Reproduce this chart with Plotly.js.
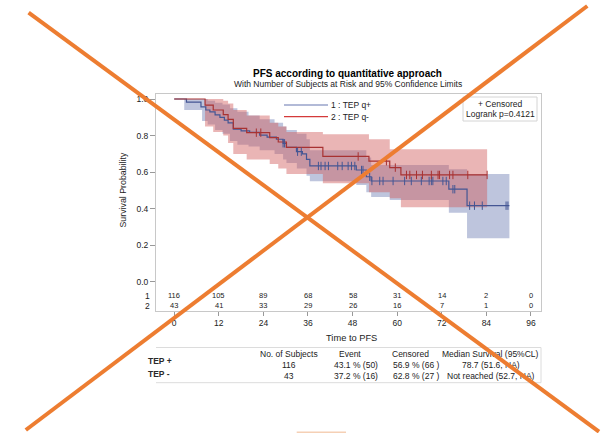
<!DOCTYPE html>
<html>
<head>
<meta charset="utf-8">
<script src="https://cdn.plot.ly/plotly-3.0.1.min.js"></script>
<style>
  html, body { margin: 0; padding: 0; background: #fff; overflow: hidden; }
  #chart, #overlay { position: absolute; left: 0; top: 0; width: 616px; height: 433px; }
  #overlay { pointer-events: none; }
</style>
</head>
<body>
<div id="chart"></div>
<div id="overlay"></div>
<script>
// ---------------- DATA ----------------
const riskTimes = [0, 12, 24, 36, 48, 60, 72, 84, 96];
const riskQpos = [116, 105, 89, 68, 58, 31, 14, 2, 0];
const riskQneg = [43, 41, 33, 29, 26, 16, 7, 1, 0];

// Kaplan-Meier step curves (time, survival)
const qposT = [0, 3.3, 7.2, 8.5, 9.6, 11, 12.3, 13.5, 14.5, 15.9, 18, 20.3, 23, 25, 27.5, 29.3, 30.2, 32.9, 34.5, 35.6, 36.5, 49, 51.7, 53, 73.9, 78.8, 90.2];
const qposS = [1, 0.983, 0.957, 0.94, 0.93, 0.913, 0.9, 0.885, 0.87, 0.835, 0.826, 0.818, 0.803, 0.792, 0.78, 0.758, 0.736, 0.712, 0.70, 0.67, 0.634, 0.612, 0.575, 0.552, 0.507, 0.417, 0.417];

const qnegT = [0, 8.3, 10.5, 13.2, 14.5, 15.9, 19.5, 25.7, 28, 30.2, 40, 52.4, 58, 61, 84.2];
const qnegS = [1, 0.967, 0.94, 0.915, 0.889, 0.84, 0.816, 0.789, 0.765, 0.736, 0.686, 0.66, 0.625, 0.585, 0.585];

// 95% confidence bands (step)
const qposBandT = [0, 2.7, 7.5, 9, 11, 13, 15, 17, 20, 23, 27, 29.3, 30.2, 33, 35.6, 36.5, 49, 51.7, 53, 58, 73.9, 78.8, 90.2];
const qposLower = [1, 0.94, 0.88, 0.86, 0.83, 0.81, 0.77, 0.75, 0.74, 0.72, 0.70, 0.67, 0.65, 0.62, 0.58, 0.55, 0.53, 0.49, 0.465, 0.448, 0.379, 0.239, 0.239];
const qposUpper = [1, 1, 1, 0.99, 0.98, 0.97, 0.95, 0.93, 0.91, 0.89, 0.87, 0.85, 0.83, 0.81, 0.78, 0.72, 0.72, 0.68, 0.64, 0.639, 0.616, 0.59, 0.59];

const qnegBandT = [0, 8.3, 10.5, 13.2, 14.5, 15.9, 19.5, 25.7, 28, 30.2, 40, 52.4, 58, 61, 84.2];
const qnegLower = [1, 0.85, 0.82, 0.80, 0.76, 0.70, 0.67, 0.645, 0.62, 0.59, 0.54, 0.49, 0.457, 0.408, 0.408];
const qnegUpper = [1, 1, 1, 0.99, 0.975, 0.94, 0.91, 0.87, 0.85, 0.82, 0.807, 0.78, 0.725, 0.725, 0.725];

// censoring times
const qposCensor = [29.3, 29.7, 33.2, 34.2, 38.8, 39.5, 40.6, 41.5, 44, 45.2, 46.8, 47.7, 48.6, 50.4, 50.8, 52.6, 53.2, 55.3, 56.2, 58.9, 62, 63.8, 66.5, 68.6, 69.2, 69.6, 72.3, 73.2, 75, 75.5, 79.5, 80.8, 82.9, 89.3, 89.8];
const qnegCensor = [22.1, 23.3, 49.5, 57.1, 59.5, 62.5, 63.4, 65.2, 66.8, 69.2, 71, 71.4, 74.1, 75, 79, 84.2];

const xTicks = [0, 12, 24, 36, 48, 60, 72, 84, 96];
const yTicks = [0, 0.2, 0.4, 0.6, 0.8, 1.0];
const yTickText = ['0.0', '0.2', '0.4', '0.6', '0.8', '1.0'];

const seriesNames = ['1 : TEP q+', '2 : TEP q-'];
const groupLabels = ['TEP +', 'TEP -'];
const tableHeaders = ['No. of Subjects', 'Event', 'Censored', 'Median Survival (95%CL)'];
const nSubjects = ['116', '43'];
const eventText = ['43.1 % (50)', '37.2 % (16)'];
const censoredText = ['56.9 % (66 )', '62.8 % (27 )'];
const medianText = ['78.7 (51.6, NA)', 'Not reached (52.7, NA)'];

// ---------------- STYLE ----------------
const FONT = 'Liberation Sans, Arial, sans-serif';
const BLUE = '#445694', RED = '#A83232';
const BLUE_FILL = 'rgba(111,126,179,0.45)', RED_FILL = 'rgba(208,91,91,0.45)';
const L = 156, R = 541, T = 94, B = 311;
const X = px => (px - L) / (R - L);
const Y = py => (B - py) / (B - T);

function stepAt(ts, ss, t) {
  let v = ss[0];
  for (let i = 0; i < ts.length; i++) { if (ts[i] <= t) v = ss[i]; }
  return v;
}

const traces = [
  {x: qposBandT, y: qposLower, mode: 'lines', line: {shape: 'hv', width: 0}, hoverinfo: 'skip', showlegend: false},
  {x: qposBandT, y: qposUpper, mode: 'lines', line: {shape: 'hv', width: 0}, fill: 'tonexty', fillcolor: BLUE_FILL, hoverinfo: 'skip', showlegend: false},
  {x: qnegBandT, y: qnegLower, mode: 'lines', line: {shape: 'hv', width: 0}, hoverinfo: 'skip', showlegend: false},
  {x: qnegBandT, y: qnegUpper, mode: 'lines', line: {shape: 'hv', width: 0}, fill: 'tonexty', fillcolor: RED_FILL, hoverinfo: 'skip', showlegend: false},
  {x: qposT, y: qposS, name: seriesNames[0], mode: 'lines', line: {shape: 'hv', width: 1.2, color: BLUE}, showlegend: false},
  {x: qnegT, y: qnegS, name: seriesNames[1], mode: 'lines', line: {shape: 'hv', width: 1.2, color: RED}, showlegend: false},
  {x: qposCensor, y: qposCensor.map(t => stepAt(qposT, qposS, t)), mode: 'markers',
   marker: {symbol: 'line-ns-open', size: 6, color: BLUE, line: {width: 1, color: BLUE}}, showlegend: false},
  {x: qnegCensor, y: qnegCensor.map(t => stepAt(qnegT, qnegS, t)), mode: 'markers',
   marker: {symbol: 'line-ns-open', size: 6, color: RED, line: {width: 1, color: RED}}, showlegend: false}
];

const TXT = '#222';
const ann = [];
function addText(text, x, y, opts) {
  ann.push(Object.assign({text: text, x: x, y: y, xref: 'paper', yref: 'paper', showarrow: false,
    xanchor: 'center', yanchor: 'middle', font: {family: FONT, size: 8.5, color: TXT}}, opts || {}));
}
addText('<b>PFS according to quantitative approach</b>', X(347.5), Y(73.3), {font: {family: FONT, size: 10, color: '#000'}});
addText('With Number of Subjects at Risk and 95% Confidence Limits', X(347.5), Y(84.3), {font: {family: FONT, size: 8.5, color: TXT}});
addText('Survival Probability', X(122), Y(190.5), {textangle: -90, font: {family: FONT, size: 8.8, color: TXT}});
addText('Time to PFS', X(351), Y(338), {font: {family: FONT, size: 9.3, color: TXT}});
addText(seriesNames[0], X(329), Y(105), {xanchor: 'left'});
addText(seriesNames[1], X(329), Y(116.7), {xanchor: 'left'});
addText('+ Censored', X(500), Y(103.5));
addText('Logrank p=0.4121', X(500), Y(114.3));

// at-risk table inside the plot
const riskRows = [riskQpos, riskQneg];
const riskY = [-0.075, -0.131];
riskRows.forEach((row, r) => {
  addText(String(r + 1), X(152), riskY[r], {yref: 'y', xanchor: 'right', font: {family: FONT, size: 8.5, color: TXT}});
  row.forEach((n, i) => {
    ann.push({text: String(n), x: riskTimes[i], y: riskY[r], xref: 'x', yref: 'y', showarrow: false,
      xanchor: 'center', yanchor: 'middle', font: {family: FONT, size: 7.5, color: TXT}});
  });
});

// summary table
const headerX = [289, 350, 410, 490];
const valueX = [289, 356, 416, 491];
tableHeaders.forEach((h, i) => addText(h, X(headerX[i]), Y(354)));
const rowsY = [365, 376];
const labelY = [360.7, 374];
groupLabels.forEach((g, r) => {
  addText('<b>' + g + '</b>', X(146), Y(labelY[r]), {xanchor: 'left', font: {family: FONT, size: 8.5, color: '#2a2a2a'}});
  addText(nSubjects[r], X(valueX[0]), Y(rowsY[r]));
  addText(eventText[r], X(valueX[1]), Y(rowsY[r]));
  addText(censoredText[r], X(valueX[2]), Y(rowsY[r]));
  addText(medianText[r], X(valueX[3]), Y(rowsY[r]));
});

const shapes = [
  {type: 'line', xref: 'paper', yref: 'paper', x0: X(284), x1: X(328), y0: Y(105), y1: Y(105), line: {color: '#6676b0', width: 1.2}},
  {type: 'line', xref: 'paper', yref: 'paper', x0: X(284), x1: X(328), y0: Y(116.7), y1: Y(116.7), line: {color: '#d43a3a', width: 1.2}},
  {type: 'rect', xref: 'paper', yref: 'paper', x0: X(463), x1: X(537), y0: Y(97), y1: Y(121), line: {color: '#d4d4d4', width: 1}, fillcolor: 'rgba(255,255,255,0)'},
  {type: 'line', xref: 'paper', yref: 'paper', x0: X(156), x1: X(541), y0: Y(347.5), y1: Y(347.5), line: {color: '#dcdcdc', width: 1}},
  {type: 'line', xref: 'paper', yref: 'paper', x0: X(156), x1: X(541), y0: Y(382.7), y1: Y(382.7), line: {color: '#dcdcdc', width: 1}},
  {type: 'line', xref: 'paper', yref: 'paper', x0: X(541), x1: X(541), y0: Y(347.5), y1: Y(382.7), line: {color: '#dcdcdc', width: 1}}
];

const layout = {
  width: 616, height: 433,
  margin: {l: L, r: 616 - R, t: T, b: 433 - B, pad: 0},
  paper_bgcolor: '#fff', plot_bgcolor: '#fff',
  font: {family: FONT, size: 8.5, color: TXT},
  showlegend: false,
  xaxis: {range: [-4.9, 98.7], tickvals: xTicks, ticks: 'outside', ticklen: 4, tickcolor: '#999',
    showgrid: false, zeroline: false, showline: true, mirror: true, linecolor: '#c8c8c8', linewidth: 1,
    tickfont: {family: FONT, size: 8.5, color: TXT}},
  yaxis: {range: [-0.1585, 1.0273], tickvals: yTicks, ticktext: yTickText, ticks: 'outside', ticklen: 5, tickcolor: '#999',
    showgrid: false, zeroline: false, showline: true, mirror: true, linecolor: '#c8c8c8', linewidth: 1,
    tickfont: {family: FONT, size: 8.5, color: TXT}},
  annotations: ann,
  shapes: shapes
};

Plotly.newPlot('chart', traces, layout, {staticPlot: true, displayModeBar: false});

// overlay: orange cross drawn over the picture
const overlayLayout = {
  width: 616, height: 433, margin: {l: 0, r: 0, t: 0, b: 0, pad: 0},
  paper_bgcolor: 'rgba(0,0,0,0)', plot_bgcolor: 'rgba(0,0,0,0)',
  xaxis: {range: [0, 616], visible: false, fixedrange: true},
  yaxis: {range: [433, 0], visible: false, fixedrange: true},
  showlegend: false,
  shapes: [
    {type: 'line', xref: 'x', yref: 'y', x0: 28.6, y0: 12.7, x1: 599, y1: 431.7, line: {color: '#ED7D31', width: 4}},
    {type: 'line', xref: 'x', yref: 'y', x0: 587.3, y0: 6, x1: 25.8, y1: 430, line: {color: '#ED7D31', width: 4}},
    {type: 'rect', xref: 'x', yref: 'y', x0: 296.7, y0: 431.6, x1: 346, y1: 433, fillcolor: '#F5D0B5', line: {width: 0}}
  ]
};
Plotly.newPlot('overlay', [], overlayLayout, {staticPlot: true, displayModeBar: false});
</script>
</body>
</html>
